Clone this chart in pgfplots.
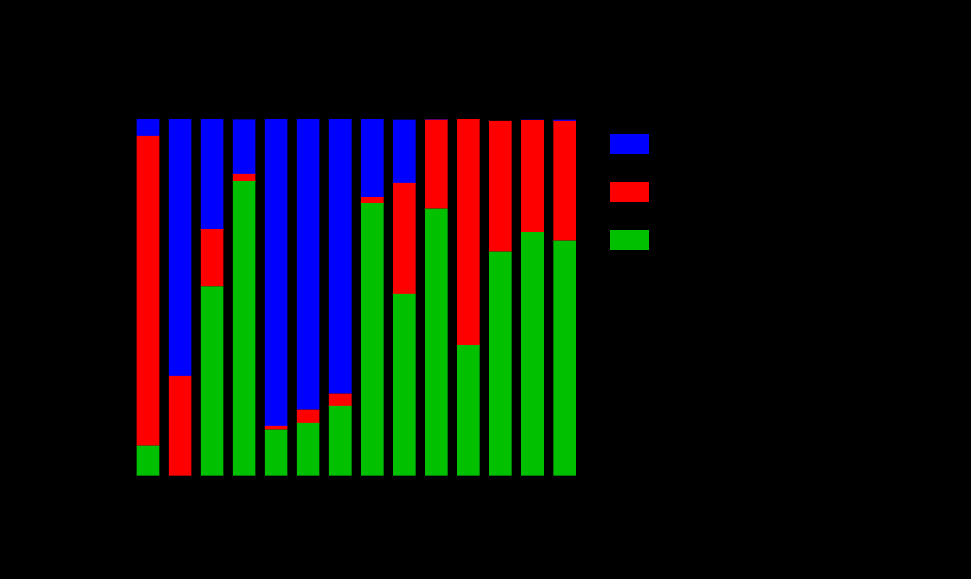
\documentclass[border=0pt]{standalone}
\usepackage{pgfplots}
\pgfplotsset{compat=1.18}
\definecolor{cblue}{RGB}{0,0,255}
\definecolor{cred}{RGB}{255,0,0}
\definecolor{cgreen}{RGB}{0,192,0}
\begin{document}
\begin{tikzpicture}
\fill[black] (0,0) rectangle (728.25pt,434.25pt);
\useasboundingbox (0,0) rectangle (728.25pt,434.25pt);
\begin{axis}[
  at={(96.58pt,77.48pt)}, anchor=south west,
  scale only axis, width=341.25pt, height=267.5pt,
  xmin=-0.6, xmax=13.6, ymin=0, ymax=100,
  hide axis,
  ybar stacked, bar width=16.9pt,
  reverse legend,
  legend image code/.code={\path[#1] (0pt,-7.5pt) rectangle (29.25pt,7.5pt);},
  legend style={draw=none, fill=none, inner sep=0pt, row sep=21pt,
    nodes={inner sep=0pt, text=black},
    at={(1.0576,0.958)}, anchor=north west},
]
\addplot[fill=cgreen, draw=none] coordinates {
(0,8.4) (1,0) (2,53.1) (3,82.6) (4,12.9) (5,14.8) (6,19.6)
(7,76.4) (8,51.0) (9,74.9) (10,36.6) (11,62.8) (12,68.3) (13,65.9)};
\addlegendentry{}
\addplot[fill=cred, draw=none] coordinates {
(0,86.9) (1,28.0) (2,16.0) (3,2.0) (4,1.1) (5,3.7) (6,3.4)
(7,1.7) (8,31.1) (9,24.9) (10,63.4) (11,36.7) (12,31.4) (13,33.6)};
\addlegendentry{}
\addplot[fill=cblue, draw=none] coordinates {
(0,4.7) (1,72.0) (2,30.9) (3,15.3) (4,86.0) (5,81.5) (6,77.0)
(7,21.9) (8,17.7) (9,0.3) (10,0) (11,0) (12,0.1) (13,0.3)};
\addlegendentry{}
\end{axis}
\end{tikzpicture}
\end{document}
